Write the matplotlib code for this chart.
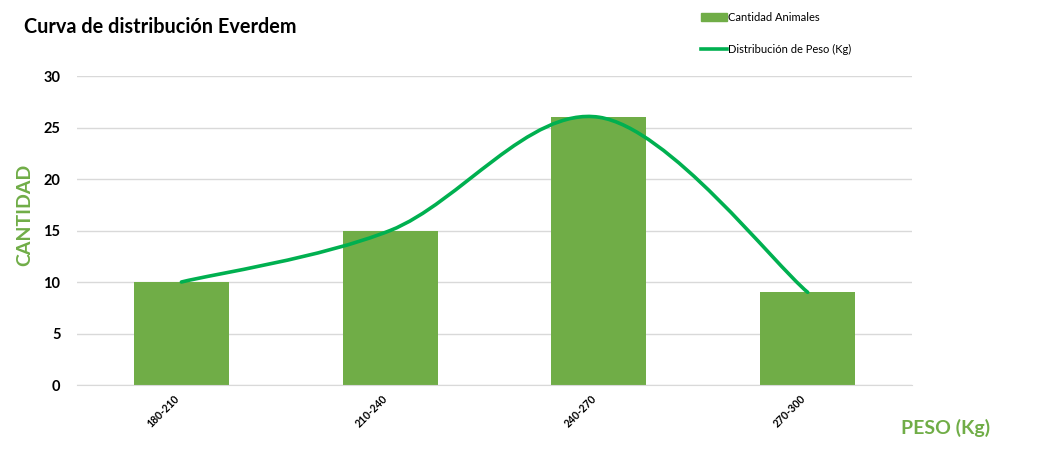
import matplotlib
matplotlib.use("Agg")
import matplotlib.pyplot as plt
from matplotlib.path import Path
from matplotlib.patches import PathPatch
from matplotlib.lines import Line2D
from matplotlib.patches import Patch

categories = ["180-210", "210-240", "240-270", "270-300"]
cantidad = [10, 15, 26, 9]
yticks = [0, 5, 10, 15, 20, 25, 30]

BAR = "#70AD47"
LINE = "#00B050"
FONT = ["Lato", "DejaVu Sans"]
plt.rcParams["font.family"] = FONT

fig = plt.figure(figsize=(10.64, 4.66), dpi=100)
ax = fig.add_axes([0.0724, 0.1738, 0.7848, 0.6631])

x = list(range(len(categories)))
ax.bar(x, cantidad, width=0.455, color=BAR, zorder=2)

# smooth line (Bezier through data points, Excel-like)
pts = list(zip(x, cantidad))
verts = [pts[0]]
codes = [Path.MOVETO]
n = len(pts)
for i in range(n - 1):
    p0 = pts[i - 1] if i > 0 else pts[i]
    p1 = pts[i]
    p2 = pts[i + 1]
    p3 = pts[i + 2] if i + 2 < n else pts[i + 1]
    c1 = (p1[0] + (p2[0] - p0[0]) / 6, p1[1] + (p2[1] - p0[1]) / 6)
    c2 = (p2[0] - (p3[0] - p1[0]) / 6, p2[1] - (p3[1] - p1[1]) / 6)
    verts += [c1, c2, p2]
    codes += [Path.CURVE4] * 3
ax.add_patch(PathPatch(Path(verts, codes), facecolor="none", edgecolor=LINE,
                       lw=2.6, zorder=3, capstyle="round"))

ax.set_xlim(-0.5, len(categories) - 0.5)
ax.set_ylim(0, 30)
ax.set_yticks(yticks)
ax.set_yticklabels([str(v) for v in yticks], fontsize=10.5, fontweight="bold")
ax.set_xticks(x)
ax.set_xticklabels(categories, rotation=45, fontsize=7.6, fontweight="bold",
                   ha="right", va="top")
ax.tick_params(length=0, pad=12)
ax.tick_params(axis="x", pad=6)
ax.grid(axis="y", color="#D9D9D9", lw=1, zorder=0)
for s in ["top", "right", "left"]:
    ax.spines[s].set_visible(False)
ax.spines["bottom"].set_color("#D9D9D9")

fig.text(24 / 1064, 1 - 27 / 466, "Curva de distribución Everdem", fontsize=14.3,
         fontweight="bold", va="center", ha="left")
fig.text(25 / 1064, 1 - 215 / 466, "CANTIDAD", rotation=90, color=BAR,
         fontsize=14, fontweight="bold", va="center", ha="center")
fig.text(946 / 1064, 1 - 428 / 466, "PESO (Kg)", color=BAR,
         fontsize=14, fontweight="bold", va="center", ha="center")

handles = [Patch(color=BAR), Line2D([0], [0], color=LINE, lw=2.6)]
labels = ["Cantidad Animales", "Distribución de Peso (Kg)"]
fig.legend(handles, labels, loc="upper left", bbox_to_anchor=(691 / 1064, 1 - 2 / 466),
           frameon=False, fontsize=8, labelspacing=1.9, handlelength=2.3,
           handletextpad=0.15, handleheight=0.7)

fig.savefig("out.png", dpi=100)
